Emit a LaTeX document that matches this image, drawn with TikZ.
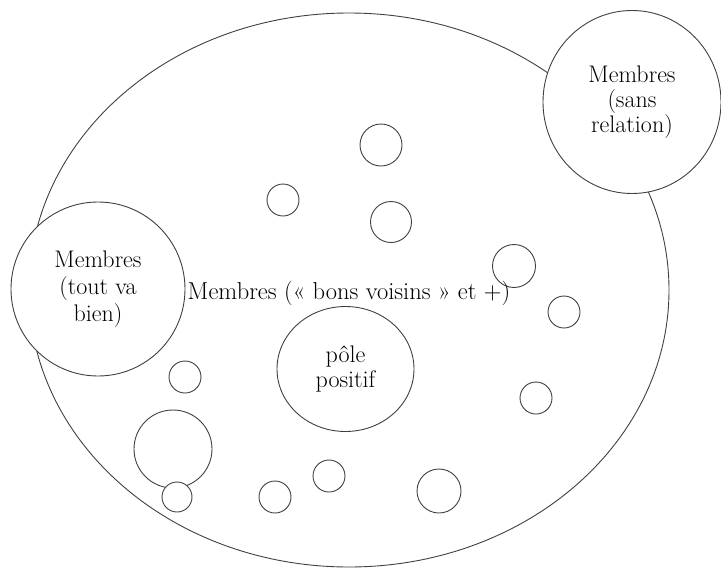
\documentclass[tikz,border=0pt]{standalone}
\usepackage{fontspec}
\usetikzlibrary{shapes.geometric}
\tikzset{
  ring/.style={circle, draw=black!75, line width=0.9pt, fill=white, inner sep=0pt},
  oval/.style={ellipse, draw=black!75, line width=0.9pt, fill=white, inner sep=0pt},
  lbl/.style={font=\fontsize{24}{27}\selectfont, align=center, text=black}
}
\begin{document}
\begin{tikzpicture}[x=1pt,y=-1pt]
\useasboundingbox (0,0) rectangle (721,568);
% big group
\node[oval, fill=none, minimum width=640pt, minimum height=554pt] (world) at (349,290) {};
% outer groups
\node[ring, lbl, minimum size=174pt] (bien) at (98,289) {Membres\\(tout va\\bien)};
\node[oval, lbl, font=\fontsize{24}{25}\selectfont, minimum width=178pt, minimum height=183pt] (sans) at (632,102) {Membres\\(sans\\relation)};
% small members
\node[ring, minimum size=42pt] (a) at (381,145) {};
\node[ring, minimum size=32pt] (b) at (283,200) {};
\node[ring, minimum size=41pt] (c) at (391,222) {};
\node[ring, minimum size=43pt] (d) at (514,266) {};
\node[ring, minimum size=32pt] (e) at (564,312) {};
\node[ring, minimum size=32pt] (f) at (536,398) {};
\node[ring, minimum size=32pt] (g) at (185,377) {};
\node[ring, minimum size=78pt] (h) at (173,449) {};
\node[ring, minimum size=30pt] (i) at (177,497) {};
\node[ring, minimum size=32pt] (j) at (275,497) {};
\node[ring, minimum size=32pt] (k) at (329,476) {};
\node[ring, minimum size=44pt] (l) at (439,491) {};
% positive pole
\node[oval, minimum width=137pt, minimum height=125pt] (pole) at (345.5,369) {};
\node[lbl, font=\fontsize{24}{25}\selectfont] (poletxt) at (pole.center) {pôle\\positif};
% label
\node[lbl, anchor=base, inner sep=0pt, font=\fontsize{24.5}{27}\selectfont] (voisins) at (349,299) {Membres («~bons voisins~» et +)};
\end{tikzpicture}
\end{document}
